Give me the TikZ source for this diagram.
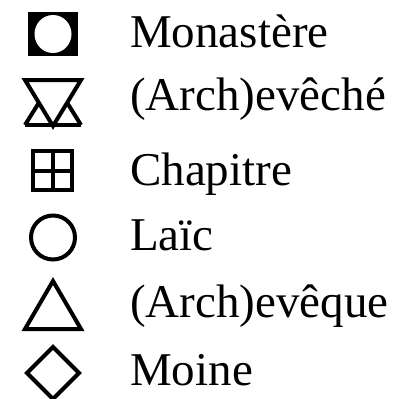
\documentclass[tikz,border=0pt]{standalone}
\usepackage{fontspec}
\setmainfont{Liberation Serif}
\begin{document}
\begin{tikzpicture}[
    x=1pt, y=-1pt,
    legend/.style={anchor=base west, inner sep=0pt, font=\fontsize{47}{56}\selectfont},
    sym/.style={draw=black, line width=4pt, line join=miter}
]
\useasboundingbox (0,0) rectangle (396,399);

% Monastere
\fill[black] (28,12) rectangle (78,56);
\fill[white] (53,34) ellipse [x radius=18.5, y radius=19];
\node[legend] (mon) at (130,47) {Monastère};

% (Arch)eveche
\draw[sym] (25,80) -- (81,80) -- (53,126) -- cycle;
\draw[sym] (25,125) -- (81,125);
\draw[sym] (25,125) -- (39,102.5);
\draw[sym] (81,125) -- (67,102.5);
\node[legend] (evc) at (130,110) {(Arch)evêché};

% Chapitre
\draw[sym] (33,151) rectangle (72,190);
\draw[sym] (52.5,151) -- (52.5,190);
\draw[sym] (33,170.5) -- (72,170.5);
\node[legend] (cha) at (130,185) {Chapitre};

% Laic
\draw[sym] (53,237.5) circle [radius=22];
\node[legend] (lai) at (130,250) {Laïc};

% (Arch)eveque
\draw[sym] (53,281) -- (81,329) -- (25,329) -- cycle;
\node[legend] (evq) at (130,317) {(Arch)evêque};

% Moine
\draw[sym] (53,347) -- (79,373) -- (53,399) -- (27,373) -- cycle;
\node[legend] (moi) at (130,385) {Moine};

\end{tikzpicture}
\end{document}
